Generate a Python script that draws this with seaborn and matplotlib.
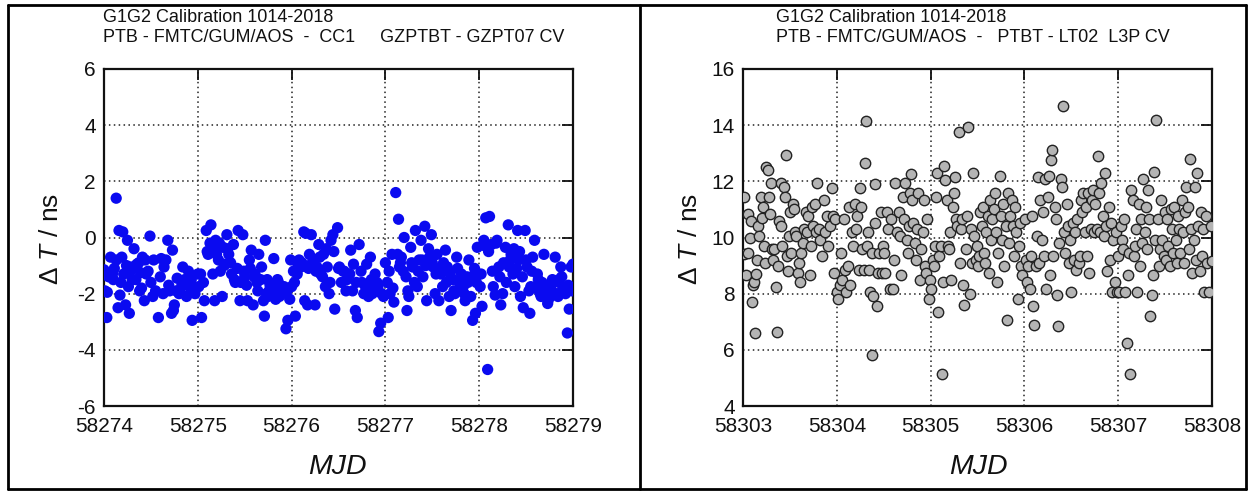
import numpy as np
import pandas as pd
import matplotlib
matplotlib.use("Agg")
import matplotlib.pyplot as plt
import seaborn as sns
from matplotlib.lines import Line2D

# ---------------- data ----------------
left_title = ["G1G2 Calibration 1014-2018",
              "PTB - FMTC/GUM/AOS  -  CC1     GZPTBT - GZPT07 CV"]
right_title = ["G1G2 Calibration 1014-2018",
               "PTB - FMTC/GUM/AOS  -   PTBT - LT02  L3P CV"]

left_base = 58274
left_offset = [
    0.00, 0.01, 0.03, 0.035, 0.07, 0.09, 0.10, 0.13, 0.132, 0.15, 0.16, 0.17, 0.19, 0.20, 0.21, 0.23, 0.25, 0.26,
    0.27, 0.29, 0.30, 0.32, 0.33, 0.35, 0.38, 0.39, 0.41, 0.43, 0.44, 0.47, 0.49, 0.50, 0.52, 0.58, 0.61, 0.64,
    0.66, 0.68, 0.70, 0.72, 0.73, 0.75, 0.78, 0.81, 0.84, 0.86, 0.88, 0.91, 0.94, 0.97, 1.00,
    0.05, 0.11, 0.18, 0.24, 0.28, 0.34, 0.37, 0.40, 0.45, 0.53, 0.55, 0.60, 0.63, 0.69, 0.74, 0.77, 0.80, 0.83,
    0.87, 0.90, 0.93, 0.96,
    1.01, 1.04, 1.07, 1.09, 1.11, 1.14, 1.16, 1.18, 1.19, 1.22, 1.24, 1.26, 1.27, 1.29, 1.31, 1.33, 1.36, 1.38,
    1.40, 1.43, 1.45, 1.48, 1.50, 1.53, 1.55, 1.57, 1.59, 1.61, 1.63, 1.65, 1.68, 1.70, 1.71, 1.72, 1.74, 1.76,
    1.78, 1.81, 1.82, 1.85, 1.87, 1.89, 1.92, 1.94, 1.96, 1.99, 2.00,
    1.03, 1.06, 1.10, 1.13, 1.17, 1.20, 1.23, 1.28, 1.32, 1.35, 1.39, 1.42, 1.46, 1.49, 1.52, 1.56, 1.60, 1.64,
    1.67, 1.73, 1.75, 1.77, 1.80, 1.83, 1.86, 1.90, 1.95, 1.98,
    2.02, 2.04, 2.06, 2.08, 2.10, 2.13, 2.14, 2.17, 2.19, 2.21, 2.23, 2.25, 2.27, 2.29, 2.31, 2.34, 2.36, 2.38,
    2.40, 2.42, 2.44, 2.46, 2.49, 2.51, 2.53, 2.56, 2.58, 2.61, 2.63, 2.66, 2.68, 2.70, 2.72, 2.75, 2.77, 2.80,
    2.81, 2.84, 2.86, 2.89, 2.92, 2.93, 2.95, 2.98, 3.00,
    2.03, 2.07, 2.11, 2.15, 2.18, 2.22, 2.26, 2.30, 2.33, 2.37, 2.41, 2.45, 2.50, 2.55, 2.59, 2.62, 2.65, 2.69,
    2.74, 2.78, 2.82, 2.85, 2.88, 2.91, 2.96,
    3.02, 3.03, 3.05, 3.07, 3.09, 3.11, 3.14, 3.15, 3.17, 3.20, 3.22, 3.23, 3.25, 3.27, 3.29, 3.32, 3.34, 3.36,
    3.38, 3.40, 3.42, 3.44, 3.47, 3.49, 3.51, 3.53, 3.55, 3.57, 3.59, 3.61, 3.64, 3.66, 3.68, 3.70, 3.72, 3.74,
    3.76, 3.79, 3.81, 3.83, 3.85, 3.87, 3.89, 3.91, 3.93, 3.96, 3.98, 3.99,
    3.04, 3.08, 3.13, 3.16, 3.19, 3.24, 3.28, 3.31, 3.35, 3.39, 3.43, 3.46, 3.50, 3.54, 3.58, 3.62, 3.65, 3.69,
    3.73, 3.77, 3.80, 3.84, 3.88, 3.92, 3.95, 3.97,
    4.01, 4.03, 4.05, 4.07, 4.09, 4.11, 4.13, 4.15, 4.17, 4.19, 4.21, 4.23, 4.25, 4.28, 4.31, 4.32, 4.34, 4.36,
    4.38, 4.41, 4.42, 4.44, 4.47, 4.49, 4.51, 4.54, 4.55, 4.57, 4.59, 4.62, 4.65, 4.67, 4.69, 4.71, 4.73, 4.76,
    4.78, 4.81, 4.83, 4.85, 4.87, 4.89, 4.91, 4.94, 4.96, 4.98, 5.00,
    4.02, 4.06, 4.10, 4.14, 4.18, 4.22, 4.26, 4.29, 4.33, 4.37, 4.40, 4.43, 4.46, 4.50, 4.53, 4.56, 4.60, 4.63,
    4.66, 4.70, 4.74, 4.77, 4.80, 4.84, 4.88, 4.92, 4.95, 4.99,
]
left_dt = [
    -1.15, -1.9, -2.85, -1.95, -0.7, -1.3, -1.5, 1.4, -0.8, -2.5, 0.25, -2.05, -0.7, 0.2, -1.3, -2.4, -0.1, -1.75,
    -2.7, -1.05, -1.5, -0.4, -1.05, -0.95, -1.9, -1.25, -0.7, -2.25, -0.8, -1.2, 0.05, -1.6, -2.1, -2.85, -0.75, -1.05,
    -0.8, -0.1, -1.9, -2.7, -0.45, -2.4, -1.45, -1.9, -1.05, -1.5, -2.1, -1.75, -2.95, -2.0, -1.3,
    -1.4, -1.1, -1.6, -1.0, -1.2, -1.5, -0.9, -1.8, -1.3, -0.8, -1.9, -1.4, -2.0, -1.7, -2.6, -1.9, -2.0, -1.7,
    -1.6, -1.2, -1.5, -1.8,
    -1.75, -2.85, -2.25, 0.25, -0.6, 0.45, -1.3, -2.25, -0.1, -0.8, -1.2, -2.1, -0.35, -0.95, 0.1, -0.6, -1.3, -0.25,
    -1.6, 0.25, -2.25, 0.1, -1.4, -2.25, -0.8, -0.45, -2.4, -1.3, -1.6, -0.6, -1.05, -2.25, -2.8, -0.1, -1.5, -1.9,
    -2.0, -0.75, -1.75, -1.5, -2.1, -1.9, -1.75, -3.25, -2.95, -0.8, -1.75,
    -1.3, -1.6, -0.5, -0.2, -0.4, -0.6, -0.2, -1.0, -0.4, -0.9, -1.5, -1.1, -1.6, -1.2, -1.7, -1.1, -1.4, -1.9,
    -1.5, -2.0, -2.1, -1.7, -1.9, -2.2, -1.6, -2.0, -1.9, -2.2,
    -1.2, -2.8, -1.3, -0.8, -1.05, 0.2, -2.25, -2.4, -0.6, 0.1, -0.8, -2.4, -1.05, -0.25, -1.3, -0.6, -1.75, -1.05,
    -2.0, -0.1, 0.1, -2.55, 0.35, -1.05, -1.6, -1.2, -1.9, -1.3, -0.45, -0.95, -2.6, -2.85, -0.25, -1.6, -2.0, -0.95,
    -1.75, -0.7, -2.0, -1.3, -1.75, -3.35, -3.05, -2.1, -0.9,
    -1.6, -1.0, -0.9, 0.15, -1.1, -0.9, -1.2, -0.7, -1.4, -0.4, -1.6, -0.5, -1.1, -1.2, -1.5, -1.3, -1.9, -1.6,
    -1.2, -1.7, -2.1, -1.5, -1.8, -1.6, -2.0,
    -1.6, -2.85, -2.0, -0.6, -2.3, 1.6, 0.65, -1.05, -0.7, 0.0, -1.4, -2.6, -2.1, -0.35, -1.05, 0.25, -1.75, -0.8,
    -0.1, -1.4, 0.4, -2.25, -0.7, 0.1, -1.05, -2.0, -0.6, -2.25, -1.3, -1.75, -0.45, -1.05, -2.1, -2.6, -1.5, -2.0,
    -0.7, -1.6, -1.3, -1.75, -2.25, -1.4, -0.8, -2.1, -2.95, -2.7, -0.35, -1.3,
    -1.2, -1.8, -0.6, -0.9, -1.2, -1.9, -0.9, -1.6, -1.2, -0.8, -1.0, -0.4, -0.9, -1.3, -1.1, -0.9, -1.6, -1.3,
    -1.9, -1.1, -1.7, -2.0, -1.6, -1.4, -1.1, -1.6,
    -1.75, -2.45, -0.1, 0.7, -4.7, 0.75, -0.25, -1.75, -2.05, -0.1, -1.05, -2.4, -2.0, -0.35, 0.45, -1.05, -0.6, -1.3,
    -1.75, 0.25, -0.8, -2.1, -2.5, 0.25, -1.05, -2.7, -1.75, -0.7, -0.1, -1.3, -2.0, -1.6, -0.6, -2.0, -2.35, -1.75,
    -1.5, -0.7, -2.0, -1.5, -1.05, -1.75, -1.9, -3.4, -2.55, -1.05, -0.95,
    -1.3, -0.3, -0.5, -1.2, -0.2, -1.4, -0.9, -1.6, -0.8, -0.4, -1.1, -0.5, -1.4, -0.8, -1.9, -1.2, -1.8, -1.5,
    -2.1, -1.7, -2.2, -1.9, -1.6, -2.1, -1.4, -2.0, -1.7, -1.9,
]

right_base = 58303
right_offset = [
    0.013, 0.015, 0.03, 0.055, 0.057, 0.072, 0.085, 0.094, 0.11, 0.12, 0.128, 0.136, 0.153, 0.16, 0.17, 0.187,
    0.2, 0.213, 0.221, 0.238, 0.247, 0.264, 0.276, 0.285, 0.298, 0.306, 0.319, 0.332, 0.349, 0.361, 0.374, 0.387,
    0.4, 0.408, 0.417, 0.434, 0.446, 0.459, 0.468, 0.48, 0.493, 0.502, 0.51, 0.531, 0.544, 0.553, 0.565, 0.582,
    0.595, 0.604, 0.621, 0.638, 0.655, 0.667, 0.68, 0.697, 0.71, 0.723, 0.731, 0.748, 0.765, 0.774, 0.791, 0.808,
    0.825, 0.842, 0.859, 0.876, 0.893, 0.91, 0.927, 0.944, 0.957, 0.969, 0.986, 0.999,
    1.013, 1.03, 1.043, 1.055, 1.072, 1.085, 1.098, 1.115, 1.128, 1.14, 1.157, 1.174, 1.191, 1.204, 1.217, 1.234,
    1.251, 1.259, 1.272, 1.285, 1.302, 1.31, 1.319, 1.332, 1.344, 1.353, 1.37, 1.378, 1.391, 1.404, 1.412, 1.425,
    1.438, 1.455, 1.468, 1.48, 1.493, 1.506, 1.518, 1.531, 1.548, 1.565, 1.582, 1.595, 1.608, 1.625, 1.642, 1.659,
    1.672, 1.684, 1.701, 1.718, 1.731, 1.744, 1.757, 1.77, 1.782, 1.795, 1.804, 1.816, 1.829, 1.846, 1.859, 1.871,
    1.884, 1.897, 1.914, 1.927, 1.939, 1.952, 1.965, 1.978, 1.991,
    2.009, 2.021, 2.034, 2.043, 2.055, 2.068, 2.081, 2.094, 2.106, 2.119, 2.132, 2.145, 2.157, 2.17, 2.183, 2.196,
    2.208, 2.221, 2.234, 2.247, 2.259, 2.272, 2.285, 2.298, 2.31, 2.323, 2.336, 2.349, 2.361, 2.374, 2.387, 2.404,
    2.417, 2.429, 2.442, 2.455, 2.468, 2.48, 2.493, 2.506, 2.519, 2.531, 2.544, 2.557, 2.57, 2.582, 2.595, 2.608,
    2.621, 2.633, 2.646, 2.659, 2.672, 2.684, 2.697, 2.71, 2.723, 2.735, 2.748, 2.761, 2.774, 2.786, 2.799, 2.812,
    2.825, 2.838, 2.85, 2.863, 2.876, 2.889, 2.901, 2.914, 2.927, 2.94, 2.952, 2.965, 2.978,
    3.004, 3.017, 3.03, 3.043, 3.055, 3.068, 3.081, 3.094, 3.106, 3.119, 3.132, 3.145, 3.157, 3.17, 3.183, 3.196,
    3.208, 3.221, 3.234, 3.247, 3.259, 3.272, 3.285, 3.298, 3.31, 3.323, 3.336, 3.349, 3.361, 3.374, 3.387, 3.4,
    3.412, 3.425, 3.438, 3.451, 3.463, 3.476, 3.489, 3.502, 3.514, 3.527, 3.54, 3.553, 3.565, 3.578, 3.591, 3.604,
    3.616, 3.629, 3.642, 3.655, 3.667, 3.68, 3.693, 3.706, 3.718, 3.731, 3.744, 3.757, 3.769, 3.782, 3.795, 3.808,
    3.82, 3.833, 3.846, 3.859, 3.871, 3.884, 3.897, 3.91, 3.922, 3.935, 3.948, 3.961, 3.973, 3.986,
    4.0, 4.013, 4.026, 4.038, 4.051, 4.064, 4.077, 4.089, 4.102, 4.115, 4.128, 4.14, 4.153, 4.166, 4.179, 4.191,
    4.204, 4.217, 4.23, 4.242, 4.255, 4.268, 4.281, 4.293, 4.306, 4.319, 4.332, 4.344, 4.357, 4.37, 4.383, 4.395,
    4.408, 4.421, 4.434, 4.446, 4.459, 4.472, 4.485, 4.497, 4.51, 4.523, 4.536, 4.548, 4.561, 4.574, 4.587, 4.599,
    4.612, 4.625, 4.638, 4.651, 4.663, 4.676, 4.689, 4.702, 4.714, 4.727, 4.74, 4.753, 4.765, 4.778, 4.791, 4.804,
    4.816, 4.829, 4.842, 4.855, 4.867, 4.88, 4.893, 4.906, 4.918, 4.935, 4.952, 4.969, 4.986, 4.995,
]
right_dt = [
    11.45, 9.4, 8.65, 10.85, 9.45, 10.0, 10.6, 7.7, 8.3, 8.4, 6.6, 8.7, 9.2, 10.4, 10.05, 11.45,
    10.7, 11.1, 9.7, 9.1, 12.5, 12.4, 11.45, 10.85, 11.95, 9.6, 9.2, 9.6, 8.25, 6.65, 9.0, 10.6,
    11.95, 10.4, 9.7, 11.8, 11.45, 12.95, 9.35, 8.8, 10.05, 10.9, 9.45, 11.2, 11.0, 10.2, 10.05, 8.75,
    9.1, 8.4, 9.45, 9.8, 10.3, 10.9, 10.2, 10.75, 8.65, 9.7, 11.1, 10.4, 11.2, 10.2, 11.95, 10.3,
    9.9, 9.35, 11.35, 10.2, 10.75, 9.7, 10.4, 11.75, 10.75, 8.75, 10.65, 8.05,
    7.8, 8.3, 9.45, 8.5, 10.65, 8.85, 8.05, 9.0, 11.1, 8.3, 10.2, 9.7, 11.2, 10.3, 10.75, 8.85,
    11.75, 11.1, 9.6, 8.85, 12.65, 14.15, 9.7, 10.2, 8.85, 8.05, 9.45, 5.8, 7.9, 11.9, 10.5, 7.55,
    8.75, 9.45, 10.9, 8.75, 9.7, 9.45, 8.75, 10.9, 10.3, 8.15, 10.65, 8.15, 9.2, 11.95, 10.2, 10.9,
    10.05, 8.65, 11.45, 10.65, 11.95, 9.9, 9.45, 10.4, 11.6, 12.25, 11.35, 10.5, 9.8, 9.2, 10.3, 11.6,
    8.5, 9.6, 10.2, 11.35, 9.0, 8.75, 10.65, 7.8, 8.5,
    8.15, 9.2, 9.0, 9.7, 11.45, 12.3, 7.35, 9.35, 9.7, 5.15, 8.4, 12.55, 12.05, 11.35, 9.7, 9.6,
    10.2, 8.5, 11.1, 11.6, 12.15, 10.65, 10.4, 13.75, 9.1, 10.3, 10.65, 8.3, 7.6, 9.6, 10.75, 13.95,
    8.0, 10.3, 9.1, 12.3, 10.05, 9.2, 9.7, 9.0, 9.35, 10.9, 10.4, 11.1, 9.45, 9.1, 10.2, 10.75,
    8.75, 11.35, 9.9, 10.65, 11.0, 11.6, 10.2, 8.4, 9.45, 12.2, 10.75, 9.9, 11.2, 9.0, 10.4, 7.05,
    11.6, 9.8, 10.75, 11.35, 10.4, 9.35, 11.1, 10.2, 7.8, 9.7, 10.5, 9.0, 8.65,
    10.65, 9.2, 8.4, 9.0, 8.15, 9.35, 10.75, 7.55, 6.9, 9.0, 10.05, 12.15, 9.1, 11.35, 9.9, 10.9,
    9.35, 12.1, 8.15, 11.45, 12.2, 8.65, 12.75, 13.1, 9.35, 11.1, 10.65, 7.95, 6.85, 9.8, 12.1, 11.8,
    14.7, 10.2, 9.45, 11.2, 10.4, 9.1, 9.9, 8.05, 10.5, 9.2, 10.2, 8.85, 10.65, 9.1, 9.35, 11.35,
    10.9, 11.6, 10.2, 11.1, 9.35, 11.6, 8.75, 10.3, 11.35, 11.7, 10.2, 11.2, 10.3, 12.9, 11.6, 10.2,
    11.95, 10.75, 10.05, 12.3, 10.4, 8.8, 11.1, 9.2, 10.5, 8.05, 9.9, 8.4, 10.2, 8.05,
    9.35, 8.05, 10.4, 9.9, 9.6, 10.65, 8.05, 6.25, 8.65, 9.45, 5.15, 11.7, 11.35, 9.35, 9.7, 10.3,
    8.05, 11.2, 9.0, 10.65, 9.8, 12.1, 10.2, 11.1, 9.6, 11.7, 10.65, 7.2, 7.95, 8.65, 12.35, 9.9,
    14.2, 10.65, 9.0, 9.6, 11.35, 9.9, 9.35, 10.9, 9.2, 10.65, 9.7, 9.0, 11.0, 10.3, 9.45, 11.1,
    9.9, 9.1, 10.75, 10.3, 9.45, 11.35, 10.2, 9.1, 10.9, 11.8, 11.1, 9.6, 12.8, 10.3, 8.75, 9.9,
    11.8, 9.2, 12.3, 10.4, 8.8, 10.9, 9.35, 10.3, 8.05, 10.75, 9.1, 8.05, 10.4, 9.15,
]

left_xticks = [58274, 58275, 58276, 58277, 58278, 58279]
left_yticks = [-6, -4, -2, 0, 2, 4, 6]
right_xticks = [58303, 58304, 58305, 58306, 58307, 58308]
right_yticks = [4, 6, 8, 10, 12, 14, 16]

df_left = pd.DataFrame({"MJD": left_base + np.array(left_offset), "dT": left_dt})
df_right = pd.DataFrame({"MJD": right_base + np.array(right_offset), "dT": right_dt})

# ---------------- style ----------------
sns.set_theme(style="white")
plt.rcParams["font.family"] = ["Liberation Sans", "DejaVu Sans"]
plt.rcParams["mathtext.fontset"] = "custom"
plt.rcParams["mathtext.rm"] = "Liberation Sans"
plt.rcParams["mathtext.it"] = "Liberation Sans:italic"

W, H = 1252, 491
fig = plt.figure(figsize=(W / 100, H / 100), dpi=100)
fig.patch.set_facecolor("white")


def px_axes(x0, x1, ytop, ybot):
    return fig.add_axes([x0 / W, 1 - ybot / H, (x1 - x0) / W, (ybot - ytop) / H])


axL = px_axes(104, 573, 69, 406)
axR = px_axes(743, 1212, 69, 406)

sns.scatterplot(data=df_left, x="MJD", y="dT", ax=axL, color="#0a0af0",
                s=66, edgecolor="none", linewidth=0, zorder=3)
sns.scatterplot(data=df_right, x="MJD", y="dT", ax=axR, color="#b4b4b4",
                s=56, edgecolor="#222222", linewidth=1.0, zorder=3)


def style_axes(ax, xticks, yticks):
    ax.set_xlim(xticks[0], xticks[-1])
    ax.set_ylim(yticks[0], yticks[-1])
    ax.set_xticks(xticks)
    ax.set_yticks(yticks)
    ax.set_xticklabels([str(t) for t in xticks])
    ax.set_yticklabels([str(t) for t in yticks])
    ax.tick_params(direction="in", length=8, width=1.3, top=True, right=True,
                   labelsize=15, colors="#111111", pad=6)
    ax.tick_params(axis="x", pad=8)
    ax.grid(True, linestyle=(0, (1, 2.2)), color="#222222", linewidth=1.1)
    for s in ax.spines.values():
        s.set_linewidth(1.6)
        s.set_color("#111111")
    ax.set_xlabel("")
    ax.set_ylabel("")
    ax.set_axisbelow(True)


style_axes(axL, left_xticks, left_yticks)
style_axes(axR, right_xticks, right_yticks)

# titles
for x0, lines in ((103, left_title), (776, right_title)):
    fig.text(x0 / W, 1 - 18 / H, lines[0], fontsize=13, va="center", ha="left", color="#111111")
    fig.text(x0 / W, 1 - 37 / H, lines[1], fontsize=13, va="center", ha="left", color="#111111")

# axis labels
for cx, ylx in ((337, 51), (978, 690)):
    fig.text(cx / W, 1 - 467 / H, "MJD", fontsize=20.5, style="italic", ha="center", va="center",
             color="#111111")
    fig.text(ylx / W, 1 - 239 / H, r"$\Delta$ $\mathit{T}$ / ns", fontsize=19, rotation=90,
             ha="center", va="center", color="#111111")

# panel borders
lw = 2.0
top, bot, lft, rgt, mid = 5, 489, 8, 1246, 640
fig.add_artist(Line2D([lft / W, rgt / W], [1 - top / H, 1 - top / H], color="black", lw=lw))
fig.add_artist(Line2D([lft / W, rgt / W], [1 - bot / H, 1 - bot / H], color="black", lw=lw))
fig.add_artist(Line2D([lft / W, lft / W], [1 - top / H, 1 - bot / H], color="black", lw=lw))
fig.add_artist(Line2D([rgt / W, rgt / W], [1 - top / H, 1 - bot / H], color="black", lw=lw))
fig.add_artist(Line2D([mid / W, mid / W], [1 - top / H, 1 - bot / H], color="black", lw=lw))

fig.savefig("out.png", dpi=100, facecolor="white")
